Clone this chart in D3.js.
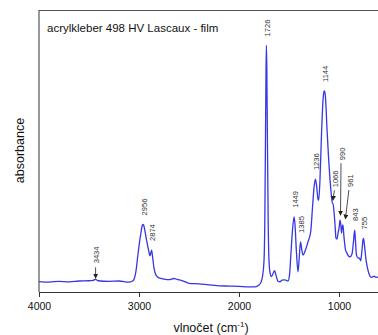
<!DOCTYPE html>
<html>
<head>
<meta charset="utf-8">
<script src="https://cdn.jsdelivr.net/npm/d3@7"></script>
<style>
  body { margin: 0; background: #fff; }
  svg { display: block; font-family: Arial, "Liberation Sans", sans-serif; }
</style>
</head>
<body>
<div id="vis"></div>
<script>
// spectrum: wavenumber (cm-1) and absorbance (arb.)
const wavenumbers = [4000, 3900, 3800, 3700, 3600, 3500, 3460, 3434, 3410, 3300, 3200, 3100, 3070, 3050, 3030, 3010, 2985, 2965, 2956, 2945, 2925, 2905, 2890, 2880, 2874, 2866, 2850, 2830, 2800, 2750, 2700, 2650, 2620, 2550, 2500, 2400, 2300, 2200, 2100, 2000, 1900, 1840, 1800, 1780, 1765, 1750, 1742, 1735, 1730, 1726, 1722, 1716, 1708, 1700, 1690, 1675, 1660, 1645, 1630, 1610, 1590, 1570, 1540, 1510, 1495, 1480, 1465, 1449, 1440, 1427, 1410, 1398, 1385, 1372, 1360, 1340, 1310, 1283, 1265, 1250, 1236, 1225, 1210, 1203, 1190, 1175, 1160, 1150, 1144, 1135, 1120, 1105, 1090, 1078, 1066, 1060, 1050, 1040, 1030, 1020, 1008, 1000, 990, 982, 975, 968, 961, 950, 935, 920, 905, 890, 870, 855, 843, 835, 825, 810, 795, 783, 770, 760, 755, 745, 730, 715, 700, 685, 670, 650, 630, 610]
const absorbance = [0.037, 0.035, 0.038, 0.036, 0.039, 0.040, 0.041, 0.045, 0.040, 0.038, 0.039, 0.035, 0.038, 0.045, 0.075, 0.135, 0.200, 0.238, 0.240, 0.225, 0.185, 0.150, 0.128, 0.142, 0.149, 0.130, 0.085, 0.060, 0.050, 0.046, 0.044, 0.048, 0.045, 0.038, 0.031, 0.029, 0.025, 0.022, 0.021, 0.020, 0.018, 0.018, 0.025, 0.035, 0.055, 0.110, 0.250, 0.550, 0.780, 0.876, 0.800, 0.550, 0.250, 0.110, 0.070, 0.055, 0.065, 0.076, 0.060, 0.038, 0.036, 0.042, 0.043, 0.039, 0.060, 0.140, 0.220, 0.267, 0.240, 0.150, 0.072, 0.120, 0.178, 0.150, 0.131, 0.145, 0.178, 0.214, 0.300, 0.370, 0.401, 0.380, 0.330, 0.326, 0.400, 0.560, 0.680, 0.712, 0.714, 0.690, 0.580, 0.480, 0.400, 0.350, 0.315, 0.315, 0.285, 0.240, 0.191, 0.188, 0.213, 0.225, 0.255, 0.240, 0.209, 0.230, 0.238, 0.195, 0.150, 0.138, 0.128, 0.125, 0.135, 0.180, 0.220, 0.180, 0.131, 0.121, 0.120, 0.111, 0.150, 0.185, 0.190, 0.165, 0.115, 0.085, 0.065, 0.054, 0.052, 0.056, 0.052, 0.054]

// plain peak labels, sitting just above the peak
const peakLabels = [2956, 2874, 1726, 1449, 1385, 1236, 1144, 843, 755]
// labels with an arrow pointing down to the band
const arrowLabels = [3434, 1066, 990, 961]

const xTicks = [4000, 3000, 2000, 1000]
const title = 'acrylkleber 498 HV Lascaux - film'

const W = 378, H = 335
const margin = {left: 39, top: 10.5, right: -1, bottom: 43}
const plotBottom = H - margin.bottom

const spectrum = wavenumbers.map((v, i) => ({v: v, a: absorbance[i]}))

const x = d3.scaleLinear().domain([4000, 600]).range([margin.left, W - margin.right])
const y = d3.scaleLinear().domain([0, 1]).range([plotBottom, margin.top])

const svg = d3.select('#vis').append('svg')
    .attr('width', W)
    .attr('height', H)

svg.append('defs').append('marker')
    .attr('id', 'arrow')
    .attr('viewBox', '0 0 6 6')
    .attr('refX', 5.5).attr('refY', 3)
    .attr('markerWidth', 5).attr('markerHeight', 5)
    .attr('markerUnits', 'userSpaceOnUse')
    .attr('orient', 'auto')
  .append('path')
    .attr('d', 'M0,0L6,3L0,6Z')
    .attr('fill', '#222')

// frame (top + left)
svg.append('path')
    .attr('d', `M${margin.left},${plotBottom}V${margin.top}H${W + 2}`)
    .attr('fill', 'none')
    .attr('stroke', '#555')
    .attr('stroke-width', 1.2)

// x axis
const xAxis = d3.axisBottom(x)
    .tickValues(xTicks)
    .tickSize(5)
    .tickSizeOuter(0)
    .tickPadding(6)
    .tickFormat(d3.format('d'))

const gx = svg.append('g')
    .attr('transform', `translate(0,${plotBottom})`)
    .call(xAxis)
gx.select('.domain').attr('stroke', '#333').attr('stroke-width', 1.2)
gx.selectAll('.tick line').attr('stroke', '#333')
gx.selectAll('.tick text')
    .attr('fill', '#111')
    .style('font-size', '10.5px')
    .style('font-family', 'Arial, "Liberation Sans", sans-serif')

// spectrum line
const line = d3.line()
    .x(d => x(d.v))
    .y(d => y(d.a))
    .curve(d3.curveMonotoneX)

svg.append('path')
    .datum(spectrum)
    .attr('d', line)
    .attr('fill', 'none')
    .attr('stroke', '#3636e6')
    .attr('stroke-width', 1.3)

function aAt(v) {
    let best = spectrum[0]
    spectrum.forEach(d => { if (Math.abs(d.v - v) < Math.abs(best.v - v)) best = d })
    return best.a
}

function vLabel(text, px, py) {
    svg.append('text')
        .attr('transform', `translate(${px},${py}) rotate(-90)`)
        .attr('dy', '0.35em')
        .attr('text-anchor', 'start')
        .attr('fill', '#333')
        .style('font-size', '7.6px')
        .text(text)
}

peakLabels.forEach(v => {
    vLabel(String(v), x(v) + 1, y(aAt(v)) - 9)
})

// arrows: [tail offset x, tail y, tip offset x, tip y gap] computed from the band
const arrowStyle = {
    3434: {dx0: 0, len: 11, dx1: 0, gap: 1, textGap: 4},
    1066: {dx0: 2, len: 10, dx1: 0.5, gap: 3, textGap: 3},
    990:  {dx0: 1, len: 52, dx1: 0.5, gap: 5, textGap: 3},
    961:  {dx0: 6, len: 29, dx1: 2.5, gap: 6, textGap: 3}
}

arrowLabels.forEach(v => {
    const s = arrowStyle[v]
    const tipX = x(v) + s.dx1
    const tipY = y(aAt(v)) - s.gap
    const tailX = x(v) + s.dx0
    const tailY = tipY - s.len
    svg.append('line')
        .attr('x1', tailX).attr('y1', tailY)
        .attr('x2', tipX).attr('y2', tipY)
        .attr('stroke', '#222')
        .attr('stroke-width', 0.8)
        .attr('marker-end', 'url(#arrow)')
    vLabel(String(v), tailX + 1, tailY - s.textGap)
})

// title
svg.append('text')
    .attr('x', 47)
    .attr('y', 31.5)
    .attr('fill', '#111')
    .style('font-size', '11.5px')
    .text(title)

// axis titles
svg.append('text')
    .attr('transform', `translate(24,150.5) rotate(-90)`)
    .attr('text-anchor', 'middle')
    .attr('fill', '#111')
    .style('font-size', '12.5px')
    .text('absorbance')

const xt = svg.append('text')
    .attr('x', 211)
    .attr('y', 332)
    .attr('text-anchor', 'middle')
    .attr('fill', '#111')
    .style('font-size', '12.5px')
xt.append('tspan').text('vlnočet (cm')
xt.append('tspan').attr('dy', -5).style('font-size', '8px').text('-1')
xt.append('tspan').attr('dy', 5).text(')')
</script>
</body>
</html>
